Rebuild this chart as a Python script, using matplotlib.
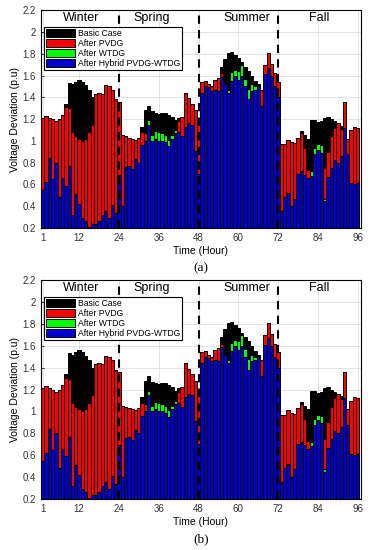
import numpy as np
import matplotlib
matplotlib.use("Agg")
import matplotlib.pyplot as plt

plt.rcParams['font.family'] = ['Liberation Sans', 'DejaVu Sans']

hours = np.arange(1, 97)

# Basic case (no DG)
basic = [1.21, 1.23, 1.21, 1.20, 1.18, 1.20, 1.24,
         1.34, 1.53, 1.52, 1.54, 1.56, 1.54, 1.51, 1.47, 1.40,
         1.43, 1.44, 1.43, 1.51, 1.50, 1.47, 1.38, 1.36,
         1.05, 1.04, 1.03, 1.02, 1.01, 1.03,
         1.13, 1.28, 1.32, 1.27, 1.26, 1.25, 1.26, 1.26, 1.24, 1.22, 1.19, 1.21, 1.22,
         1.44, 1.39, 1.34, 1.28, 1.19,
         1.54, 1.55, 1.52, 1.50, 1.56, 1.58,
         1.68, 1.75, 1.81, 1.82, 1.79, 1.76, 1.72, 1.68, 1.64, 1.60, 1.55, 1.52,
         1.47, 1.70, 1.81, 1.71, 1.62, 1.54,
         0.97, 0.97, 1.01, 0.99, 0.98, 1.03,
         1.09, 1.05, 1.02, 1.19, 1.19, 1.17, 1.18, 1.21, 1.22, 1.20, 1.18, 1.16, 1.14,
         1.36, 1.02, 1.10, 1.13, 1.12]

# After PVDG
pvdg = [1.21, 1.23, 1.21, 1.20, 1.18, 1.20, 1.24,
        1.31, 1.30, 1.08, 1.04, 1.02, 1.00, 1.02, 1.08, 1.15,
        1.43, 1.44, 1.43, 1.51, 1.50, 1.47, 1.38, 1.36,
        1.05, 1.04, 1.03, 1.02, 1.01, 1.03,
        1.08, 1.07, 1.19, 1.05, 1.09, 1.08, 1.07, 1.05, 1.01, 1.05, 1.10, 1.18, 1.22,
        1.44, 1.39, 1.34, 1.28, 1.19,
        1.54, 1.55, 1.52, 1.50, 1.56, 1.58,
        1.62, 1.52, 1.47, 1.63, 1.65, 1.64, 1.70, 1.57, 1.48, 1.52, 1.50, 1.50,
        1.47, 1.70, 1.81, 1.71, 1.62, 1.54,
        0.97, 0.97, 1.01, 0.99, 0.98, 1.03,
        1.07, 0.93, 0.73, 0.70, 0.93, 0.97, 0.96, 0.75, 0.90, 1.04, 1.12, 1.16, 1.11,
        1.36, 1.02, 1.10, 1.13, 1.12]

# After WTDG
wtdg = [0.55, 0.62, 0.84, 0.65, 0.80, 0.48, 0.66, 0.59, 0.77, 0.32, 0.51, 0.42,
        0.29, 0.26, 0.21, 0.24, 0.24, 0.26, 0.32, 0.36, 0.29, 0.41, 0.34, 0.69,
        0.40, 0.76, 0.77, 0.74, 0.83, 0.80, 0.96, 1.00,
        1.19, 1.05, 1.09, 1.08, 1.07, 1.05, 1.01, 1.05, 1.10,
        1.08, 1.04, 1.13, 1.16, 1.15, 0.91, 0.70,
        1.44, 1.50, 1.49, 1.46, 1.47, 1.46, 1.59, 1.52,
        1.47, 1.63, 1.65, 1.64, 1.70, 1.57, 1.48, 1.52, 1.50,
        1.50, 1.32, 1.61, 1.67, 1.60, 1.50, 1.40,
        0.36, 0.48, 0.52, 0.40, 0.47, 0.70, 0.72, 0.69, 0.66,
        0.72, 0.93, 0.97, 0.96, 0.47,
        0.67, 0.75, 0.82, 0.80, 0.86, 1.12, 0.88, 0.61, 0.60, 0.61]

# After hybrid PVDG-WTDG
hybrid = [0.55, 0.62, 0.84, 0.65, 0.80, 0.48, 0.66, 0.59, 0.77, 0.32, 0.51, 0.42,
          0.29, 0.26, 0.21, 0.24, 0.24, 0.26, 0.32, 0.36, 0.29, 0.41, 0.34, 0.69,
          0.40, 0.76, 0.77, 0.74, 0.83, 0.80, 0.96, 1.00, 1.15, 1.00, 1.02, 1.00,
          1.00, 0.99, 0.95, 1.02, 1.07, 1.08, 1.04, 1.13, 1.16, 1.15, 0.91, 0.70,
          1.44, 1.50, 1.49, 1.46, 1.47, 1.46, 1.59, 1.52, 1.44, 1.55, 1.60, 1.56,
          1.60, 1.50, 1.38, 1.46, 1.47, 1.50, 1.32, 1.61, 1.67, 1.60, 1.50, 1.40,
          0.36, 0.48, 0.52, 0.40, 0.47, 0.70, 0.72, 0.69, 0.66, 0.68, 0.88, 0.92,
          0.89, 0.45, 0.67, 0.75, 0.82, 0.80, 0.86, 1.12, 0.88, 0.61, 0.60, 0.61]

seasons = ['Winter', 'Spring', 'Summer', 'Fall']
season_x = [12.5, 34, 62.5, 84.5]
season_lines = [24, 48, 72]
xticks = [1, 12, 24, 36, 48, 60, 72, 84, 96]
yticks = [0.2, 0.4, 0.6, 0.8, 1.0, 1.2, 1.4, 1.6, 1.8, 2.0, 2.2]
ytick_labels = ['0.2', '0.4', '0.6', '0.8', '1', '1.2', '1.4', '1.6', '1.8', '2', '2.2']
legend_labels = ['Basic Case', 'After PVDG', 'After WTDG', 'After Hybrid PVDG-WTDG']
colors = ['#000000', '#ff0000', '#00ff00', '#0000d0']


def draw_panel(ax, caption):
    series = [basic, pvdg, wtdg, hybrid]
    for vals, col, lab in zip(series, colors, legend_labels):
        ax.bar(hours, vals, width=1.0, color=col, edgecolor='black',
               linewidth=0.7, label=lab, zorder=2)
    for xl in season_lines:
        ax.axvline(xl, color='black', linestyle=(0, (4, 3)), linewidth=1.5, zorder=3)
    for name, xs in zip(seasons, season_x):
        ax.text(xs, 2.13, name, ha='center', va='center', fontsize=9)
    ax.set_xlim(0.4, 97)
    ax.set_ylim(0.2, 2.2)
    ax.set_xticks(xticks)
    ax.set_yticks(yticks)
    ax.set_yticklabels(ytick_labels)
    ax.tick_params(labelsize=7, colors='#333333', length=2, direction='in')
    ax.grid(True, color='#dddddd', linewidth=0.6, zorder=0)
    ax.set_axisbelow(True)
    ax.set_xlabel('Time (Hour)', fontsize=7.5, labelpad=2)
    ax.set_ylabel('Voltage Deviation (p.u)', fontsize=7.5, labelpad=2)
    leg = ax.legend(loc='upper left', bbox_to_anchor=(0.01, 0.925), fontsize=6.2,
                    handlelength=3.4, handleheight=1.1, labelspacing=0.12,
                    borderpad=0.25, handletextpad=0.3, borderaxespad=0,
                    fancybox=False, framealpha=1, edgecolor='black')
    leg.get_frame().set_linewidth(0.8)
    ax.text(0.5, -0.185, caption, transform=ax.transAxes, ha='center', va='center',
            fontsize=9.5, family='Liberation Serif')


fig = plt.figure(figsize=(3.73, 5.5), dpi=100)
ax1 = fig.add_axes([0.109, 0.5855, 0.859, 0.396])
ax2 = fig.add_axes([0.109, 0.0927, 0.859, 0.398])
draw_panel(ax1, '(a)')
draw_panel(ax2, '(b)')
fig.savefig('out.png', dpi=100)
